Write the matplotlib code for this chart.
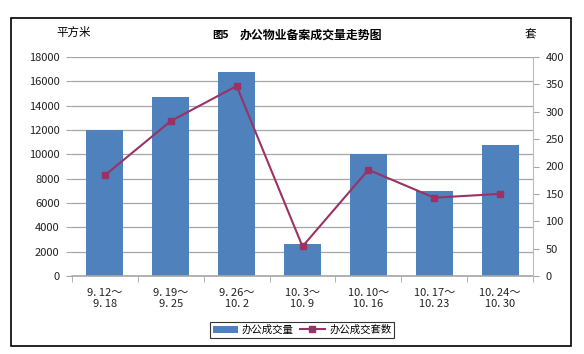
import matplotlib
matplotlib.use("Agg")
import matplotlib.pyplot as plt
from matplotlib.patches import Rectangle
import numpy as np

plt.rcParams['font.family'] = ['Noto Sans CJK SC', 'DejaVu Sans']

periods = ["9. 12～\n9. 18", "9. 19～\n9. 25", "9. 26～\n10. 2", "10. 3～\n10. 9",
           "10. 10～\n10. 16", "10. 17～\n10. 23", "10. 24～\n10. 30"]
area = [12000, 14750, 16800, 2600, 10000, 7000, 10800]   # 平方米
units = [184, 283, 347, 54, 194, 143, 150]               # 套

fig = plt.figure(figsize=(5.84, 3.54), dpi=100)
fig.patches.append(Rectangle((11/584, 1 - 346/354), 560/584, 328/354,
                             transform=fig.transFigure, fill=False,
                             edgecolor='black', linewidth=1.2))

ax = fig.add_axes([72/584, 1 - 276/354, 461/584, 219/354])
x = np.arange(len(periods))
bars = ax.bar(x, area, width=0.56, color='#4F81BD', zorder=2, label='办公成交量')
ax.set_xlim(-0.5, len(periods) - 0.5)
ax.set_ylim(0, 18000)
ax.set_yticks(range(0, 18001, 2000))
ax.yaxis.grid(True, color='#A6A6A6', linewidth=0.9, zorder=0)
ax.set_xticks(x)
ax.set_xticklabels(periods, fontsize=8, color='#222222', linespacing=1.1)
ax.set_xticks(np.arange(-0.5, len(periods)), minor=True)
ax.tick_params(axis='x', which='major', length=0, pad=9)
ax.tick_params(axis='x', which='minor', length=4, color='#A6A6A6')
ax.tick_params(axis='y', labelsize=8, length=4, color='#A6A6A6', labelcolor='#222222', pad=5)
for s in ['top', 'right', 'left']:
    ax.spines[s].set_visible(False)
ax.spines['bottom'].set_color('#A6A6A6')
ax.spines['bottom'].set_linewidth(1.2)

ax2 = ax.twinx()
line, = ax2.plot(x, units, color='#993366', marker='s', markersize=5,
                 linewidth=1.5, label='办公成交套数', zorder=3)
ax2.set_ylim(0, 400)
ax2.set_yticks(range(0, 401, 50))
ax2.tick_params(axis='y', labelsize=8, length=4, color='#A6A6A6', labelcolor='#222222', pad=5)
for s in ['top', 'left', 'bottom']:
    ax2.spines[s].set_visible(False)
ax2.spines['right'].set_color('#BBBBBB')

# 标题与单位
fig.text(212/584, 1 - 35/354, '图5', ha='left', va='center',
         fontsize=7.5, fontweight='bold')
fig.text(240/584, 1 - 35/354, '办公物业备案成交量走势图', ha='left', va='center',
         fontsize=8.6, fontweight='bold')
fig.text(74/584, 1 - 32/354, '平方米', ha='center', va='center', fontsize=8.3)
fig.text(530/584, 1 - 35/354, '套', ha='center', va='center', fontsize=8.3)

leg = fig.legend([bars, line], ['办公成交量', '办公成交套数'], loc='center',
                 bbox_to_anchor=(302/584, 1 - 330/354), ncol=2, fontsize=7.5,
                 frameon=True, fancybox=False, edgecolor='black',
                 handlelength=2.4, columnspacing=0.6, handletextpad=0.4,
                 borderpad=0.25)
leg.get_frame().set_linewidth(0.8)

fig.savefig('out.png', dpi=100)
